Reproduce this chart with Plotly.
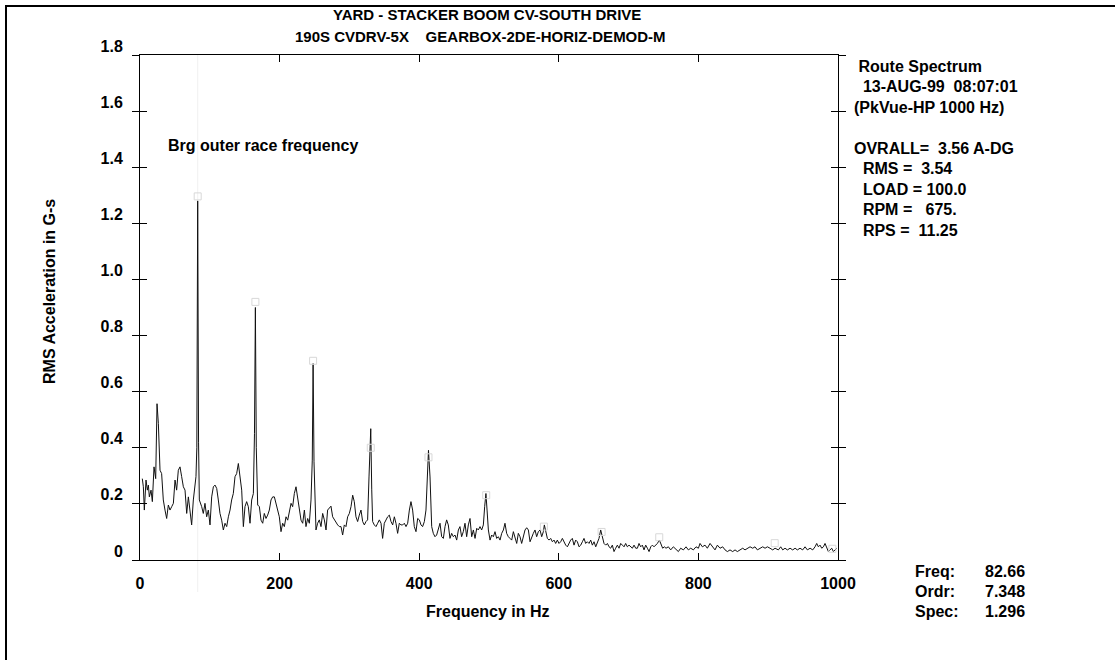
import plotly.graph_objects as go

# ---------------- data ----------------
FREQ_HZ = [
    3.3, 4.8, 6.2, 8.6, 10.5, 12.0, 13.4, 15.8, 17.7, 20.1, 22.5, 24.4, 26.3, 28.7, 31.0, 33.4,
    35.8, 38.2, 40.6, 43.0, 45.4, 47.8, 50.2, 52.5, 54.9, 57.3, 59.7, 62.1, 64.5, 66.9, 69.3,
    71.6, 74.0, 76.4, 78.8, 80.2, 81.4, 82.66, 83.9, 85.0, 88.4, 90.7, 93.1, 95.5, 97.9, 100.3,
    102.7, 105.1, 107.5, 109.9, 112.2, 114.6, 117.0, 119.4, 121.8, 124.2, 126.6, 129.0, 131.3,
    133.7, 136.1, 138.5, 140.9, 143.3, 145.7, 148.1, 150.4, 152.8, 155.2, 157.6, 160.0, 162.4,
    164.0, 165.3, 166.6, 168.6, 171.0, 173.4, 175.8, 178.1, 180.5, 182.9, 185.3, 187.7, 190.1,
    192.5, 194.9, 197.2, 199.6, 202.0, 204.4, 206.8, 209.2, 211.6, 214.0, 216.4, 218.7, 221.1,
    223.5, 225.9, 228.3, 230.7, 233.1, 235.5, 237.8, 240.2, 242.6, 245.0, 246.8, 248.0, 249.3,
    250.7, 252.1, 254.5, 256.9, 259.3, 261.7, 264.1, 266.5, 268.8, 271.2, 273.6, 276.0, 278.4,
    280.8, 283.2, 285.6, 288.0, 290.3, 292.7, 295.1, 297.5, 299.9, 302.3, 304.7, 307.0, 309.4,
    311.8, 314.2, 316.6, 319.0, 321.4, 323.8, 326.1, 328.1, 330.6, 332.0, 333.3, 335.7, 338.1,
    340.5, 342.9, 345.3, 347.6, 350.0, 352.4, 354.8, 357.2, 359.6, 362.0, 364.4, 366.7, 369.1,
    371.5, 373.9, 376.3, 378.7, 381.1, 383.5, 385.9, 388.2, 390.6, 393.0, 395.4, 397.8, 400.2,
    402.6, 404.9, 407.4, 409.7, 411.7, 413.3, 415.5, 417.9, 420.2, 422.6, 425.0, 427.4, 429.8,
    432.2, 434.6, 437.0, 439.3, 441.7, 444.1, 446.5, 448.9, 451.3, 453.7, 456.1, 458.4, 460.8,
    463.2, 465.6, 468.0, 470.4, 472.8, 475.2, 477.6, 480.0, 482.4, 484.7, 487.1, 489.5, 491.9,
    493.8, 495.6, 497.2, 499.1, 501.5, 503.8, 506.2, 508.6, 511.0, 513.4, 515.8, 518.2, 520.6,
    522.9, 525.3, 527.7, 530.1, 532.5, 534.9, 537.3, 539.7, 542.0, 544.4, 546.8, 549.2, 551.6,
    554.0, 556.4, 558.8, 561.2, 563.5, 565.9, 568.3, 570.7, 573.1, 575.5, 577.9, 579.3, 581.2,
    583.6, 586.0, 588.4, 590.8, 593.2, 595.5, 597.9, 600.3, 602.7, 605.1, 607.5, 609.9, 612.3,
    614.6, 617.0, 619.4, 621.8, 624.2, 626.6, 629.0, 631.4, 633.8, 636.1, 638.5, 640.9, 643.3,
    645.7, 648.1, 650.5, 652.9, 655.2, 657.6, 660.0, 662.4, 664.8, 667.2, 669.6, 672.0, 674.3,
    676.7, 679.1, 681.5, 683.9, 686.3, 688.7, 691.1, 693.5, 695.8, 698.2, 700.6, 703.0, 705.4,
    707.8, 710.2, 712.6, 714.9, 717.3, 719.7, 722.1, 724.5, 726.9, 729.3, 731.7, 734.1, 736.4,
    738.8, 741.2, 744.1, 746.5, 748.8, 751.2, 753.6, 757.0, 760.3, 764.1, 768.0, 771.3, 774.6,
    778.5, 782.3, 785.6, 789.0, 792.8, 796.6, 800.0, 802.3, 805.7, 809.5, 812.8, 816.7, 820.0,
    823.8, 827.2, 831.0, 834.8, 838.2, 841.5, 845.3, 849.1, 852.5, 855.8, 859.7, 863.5, 866.8,
    870.2, 874.0, 877.8, 881.1, 884.5, 888.3, 892.1, 895.5, 898.8, 902.6, 906.5, 909.8, 914.6,
    917.9, 920.8, 924.1, 927.5, 931.3, 935.1, 938.5, 941.8, 945.6, 949.4, 952.8, 956.1, 960.0,
    963.8, 967.1, 969.5, 971.9, 974.3, 976.7, 979.1, 981.4, 983.8, 986.2, 988.6, 991.0, 993.4,
    995.8, 998.2,
]
AMP_G = [
    0.290, 0.261, 0.178, 0.285, 0.249, 0.267, 0.225, 0.249, 0.208, 0.332, 0.290, 0.557, 0.486, 0.320, 0.308, 0.214,
    0.178, 0.148, 0.196, 0.178, 0.190, 0.202, 0.285, 0.249, 0.320, 0.332, 0.297, 0.261, 0.249, 0.166, 0.225,
    0.178, 0.125, 0.214, 0.261, 0.297, 0.400, 1.280, 0.420, 0.214, 0.190, 0.166, 0.202, 0.154, 0.178, 0.125,
    0.225, 0.261, 0.267, 0.255, 0.214, 0.166, 0.142, 0.107, 0.131, 0.119, 0.154, 0.178, 0.214,
    0.237, 0.297, 0.308, 0.344, 0.285, 0.249, 0.119, 0.190, 0.208, 0.190, 0.131, 0.214, 0.237,
    0.450, 0.900, 0.400, 0.196, 0.190, 0.142, 0.131, 0.166, 0.148, 0.160, 0.178, 0.214, 0.225,
    0.225, 0.202, 0.178, 0.154, 0.101, 0.131, 0.119, 0.154, 0.142, 0.178, 0.202, 0.190, 0.237,
    0.261, 0.225, 0.178, 0.142, 0.131, 0.178, 0.119, 0.148, 0.131, 0.214, 0.356, 0.700, 0.350,
    0.178, 0.107, 0.131, 0.143, 0.119, 0.166, 0.143, 0.107, 0.178, 0.184, 0.192, 0.154, 0.143,
    0.131, 0.125, 0.119, 0.119, 0.089, 0.125, 0.119, 0.154, 0.166, 0.190, 0.231, 0.208, 0.154,
    0.137, 0.160, 0.178, 0.137, 0.125, 0.137, 0.143, 0.296, 0.468, 0.250, 0.137, 0.125, 0.119,
    0.131, 0.143, 0.131, 0.077, 0.131, 0.143, 0.154, 0.160, 0.137, 0.125, 0.154, 0.131, 0.095,
    0.131, 0.125, 0.125, 0.131, 0.119, 0.131, 0.178, 0.208, 0.178, 0.119, 0.101, 0.148, 0.143,
    0.125, 0.119, 0.137, 0.178, 0.320, 0.391, 0.296, 0.119, 0.095, 0.083, 0.089, 0.113, 0.131,
    0.083, 0.077, 0.119, 0.143, 0.125, 0.077, 0.095, 0.083, 0.089, 0.071, 0.107, 0.119, 0.083,
    0.101, 0.131, 0.083, 0.125, 0.148, 0.083, 0.107, 0.077, 0.113, 0.107, 0.119, 0.107, 0.125,
    0.190, 0.237, 0.178, 0.107, 0.071, 0.089, 0.083, 0.101, 0.077, 0.083, 0.071, 0.095, 0.107,
    0.131, 0.095, 0.083, 0.077, 0.071, 0.101, 0.083, 0.059, 0.095, 0.083, 0.059, 0.083, 0.107,
    0.115, 0.107, 0.065, 0.083, 0.095, 0.107, 0.083, 0.101, 0.107, 0.083, 0.101, 0.125, 0.107,
    0.077, 0.071, 0.077, 0.065, 0.071, 0.059, 0.071, 0.059, 0.065, 0.077, 0.065, 0.053, 0.047,
    0.059, 0.071, 0.077, 0.053, 0.071, 0.065, 0.047, 0.053, 0.065, 0.077, 0.059, 0.065, 0.059,
    0.071, 0.053, 0.065, 0.047, 0.065, 0.077, 0.107, 0.077, 0.059, 0.053, 0.059, 0.047, 0.042,
    0.053, 0.030, 0.042, 0.053, 0.042, 0.059, 0.053, 0.047, 0.059, 0.047, 0.053, 0.047, 0.042,
    0.053, 0.042, 0.042, 0.059, 0.047, 0.053, 0.036, 0.053, 0.042, 0.030, 0.047, 0.053, 0.047,
    0.053, 0.059, 0.071, 0.053, 0.042, 0.047, 0.042, 0.047, 0.036, 0.047, 0.036, 0.030, 0.042,
    0.036, 0.047, 0.036, 0.042, 0.036, 0.047, 0.042, 0.059, 0.047, 0.053, 0.042, 0.059, 0.047,
    0.036, 0.053, 0.042, 0.047, 0.036, 0.030, 0.036, 0.030, 0.036, 0.030, 0.036, 0.042, 0.036,
    0.042, 0.047, 0.042, 0.047, 0.036, 0.042, 0.047, 0.042, 0.047, 0.042, 0.036, 0.042, 0.036,
    0.047, 0.036, 0.042, 0.036, 0.042, 0.036, 0.042, 0.036, 0.042, 0.036, 0.047, 0.036, 0.042,
    0.036, 0.047, 0.059, 0.047, 0.053, 0.042, 0.047, 0.059, 0.042, 0.030, 0.036, 0.042, 0.030,
    0.036, 0.042,
]

# harmonic markers of bearing outer race frequency
HARM_HZ = [165.3, 248.0, 330.6, 413.3, 496.0, 578.6, 661.3, 743.9, 909.3, 992.0]
HARM_AMP = [0.92, 0.71, 0.40, 0.366, 0.231, 0.119, 0.100, 0.081, 0.060, 0.040]

CURSOR_HZ = 82.66
CURSOR_AMP = 1.296

X_TICKS = [0, 200, 400, 600, 800, 1000]
X_TICK_TEXT = ["0", "200", "400", "600", "800", "1000"]
Y_TICKS = [0, 0.2, 0.4, 0.6, 0.8, 1.0, 1.2, 1.4, 1.6, 1.8]
Y_TICK_TEXT = ["0", "0.2", "0.4", "0.6", "0.8", "1.0", "1.2", "1.4", "1.6", "1.8"]

TITLE_1 = "YARD - STACKER BOOM CV-SOUTH DRIVE"
TITLE_2 = "190S CVDRV-5X\u00a0\u00a0\u00a0\u00a0GEARBOX-2DE-HORIZ-DEMOD-M"
X_TITLE = "Frequency in Hz"
Y_TITLE = "RMS Acceleration in G-s"
NOTE = "Brg outer race frequency"
INFO_LINES = [
    "\u00a0Route Spectrum",
    "\u00a0\u00a013-AUG-99\u00a0\u00a008:07:01",
    "(PkVue-HP 1000 Hz)",
    "",
    "OVRALL=\u00a0\u00a03.56 A-DG",
    "\u00a0\u00a0RMS =\u00a0\u00a03.54",
    "\u00a0\u00a0LOAD = 100.0",
    "\u00a0\u00a0RPM =\u00a0\u00a0\u00a0675.",
    "\u00a0\u00a0RPS =\u00a0\u00a011.25",
]
CURSOR_LABELS = ["Freq:", "Ordr:", "Spec:"]
CURSOR_VALUES = ["82.66", "7.348", "1.296"]

# ---------------- layout geometry (pixels) ----------------
W, H = 1115, 660
L, R, T, B = 140, 277, 55, 100
PW, PH = W - L - R, H - T - B


def px(xp):
    return (xp - L) / PW


def py(yp):
    return (H - B - yp) / PH


FONT = "Liberation Sans, Arial, Helvetica, sans-serif"
bold16 = dict(family=FONT, size=16, color="black", weight="bold")
bold15 = dict(family=FONT, size=15, color="black", weight="bold")

fig = go.Figure()

fig.add_trace(go.Scatter(
    x=FREQ_HZ, y=AMP_G, mode="lines",
    line=dict(color="#111111", width=1),
    hoverinfo="skip", showlegend=False,
))
fig.add_trace(go.Scatter(
    x=HARM_HZ + [CURSOR_HZ], y=HARM_AMP + [CURSOR_AMP], mode="markers",
    marker=dict(symbol="square-open", size=7, color="#d8d8d8", line=dict(width=1)),
    hoverinfo="skip", showlegend=False, yaxis="y2",
))

# cursor line
fig.add_shape(type="line", xref="x", yref="paper",
              x0=CURSOR_HZ, x1=CURSOR_HZ, y0=py(592), y1=1.0,
              line=dict(color="#f0f0f0", width=1), layer="below")

# outer frame (only left and top edges fall inside the picture)
fig.add_shape(type="rect", xref="paper", yref="paper",
              x0=px(6), x1=px(1400), y0=py(900), y1=py(6),
              line=dict(color="black", width=2))

ann = []
ann.append(dict(text=TITLE_1, x=px(487), y=py(15), xref="paper", yref="paper",
                showarrow=False, xanchor="center", yanchor="middle", font=bold15))
ann.append(dict(text=TITLE_2, x=px(480), y=py(37), xref="paper", yref="paper",
                showarrow=False, xanchor="center", yanchor="middle", font=bold15))
ann.append(dict(text=X_TITLE, x=px(488), y=py(611), xref="paper", yref="paper",
                showarrow=False, xanchor="center", yanchor="middle", font=bold16))
ann.append(dict(text=Y_TITLE, x=px(49), y=py(292), xref="paper", yref="paper",
                showarrow=False, xanchor="center", yanchor="middle", textangle=-90,
                font=bold16))
ann.append(dict(text=NOTE, x=px(166), y=py(145), xref="paper", yref="paper",
                showarrow=False, xanchor="left", yanchor="middle", font=bold16))
for i, line in enumerate(INFO_LINES):
    if not line:
        continue
    ann.append(dict(text=line, x=px(852), y=py(66 + i * 20.5), xref="paper", yref="paper",
                    showarrow=False, xanchor="left", yanchor="middle", font=bold16))
for i, (lab, val) in enumerate(zip(CURSOR_LABELS, CURSOR_VALUES)):
    ann.append(dict(text=lab, x=px(913), y=py(571 + i * 20), xref="paper", yref="paper",
                    showarrow=False, xanchor="left", yanchor="middle", font=bold16))
    ann.append(dict(text=val, x=px(983), y=py(571 + i * 20), xref="paper", yref="paper",
                    showarrow=False, xanchor="left", yanchor="middle", font=bold16))

fig.update_layout(
    width=W, height=H,
    margin=dict(l=L, r=R, t=T, b=B, pad=0),
    paper_bgcolor="white", plot_bgcolor="white",
    showlegend=False,
    annotations=ann,
    xaxis=dict(
        range=[0, 1000], tickvals=X_TICKS, ticktext=X_TICK_TEXT,
        ticks="inside", ticklen=7, tickcolor="black", tickwidth=1,
        showline=True, linecolor="black", linewidth=1, mirror="ticks",
        showgrid=False, zeroline=False, fixedrange=True,
        tickfont=bold16, ticklabelstandoff=9,
    ),
    yaxis=dict(
        range=[0, 1.8], tickvals=Y_TICKS, ticktext=Y_TICK_TEXT,
        ticks="outside", ticklen=7, tickcolor="black", tickwidth=1,
        showline=True, linecolor="black", linewidth=1, mirror="ticks",
        showgrid=False, zeroline=False, fixedrange=True,
        tickfont=bold16, ticklabelshift=-9, ticklabelstandoff=6,
    ),
    yaxis2=dict(
        range=[0, 1.8], tickvals=Y_TICKS, overlaying="y", side="left",
        ticks="inside", ticklen=7, tickcolor="black", tickwidth=1,
        showline=True, linecolor="black", linewidth=1, mirror="ticks",
        showticklabels=False, showgrid=False, zeroline=False, fixedrange=True,
    ),
)

fig.write_html(
    "out.html",
    config={"displayModeBar": False},
    post_script="document.body.style.margin='0px';document.body.style.overflow='hidden';",
)
